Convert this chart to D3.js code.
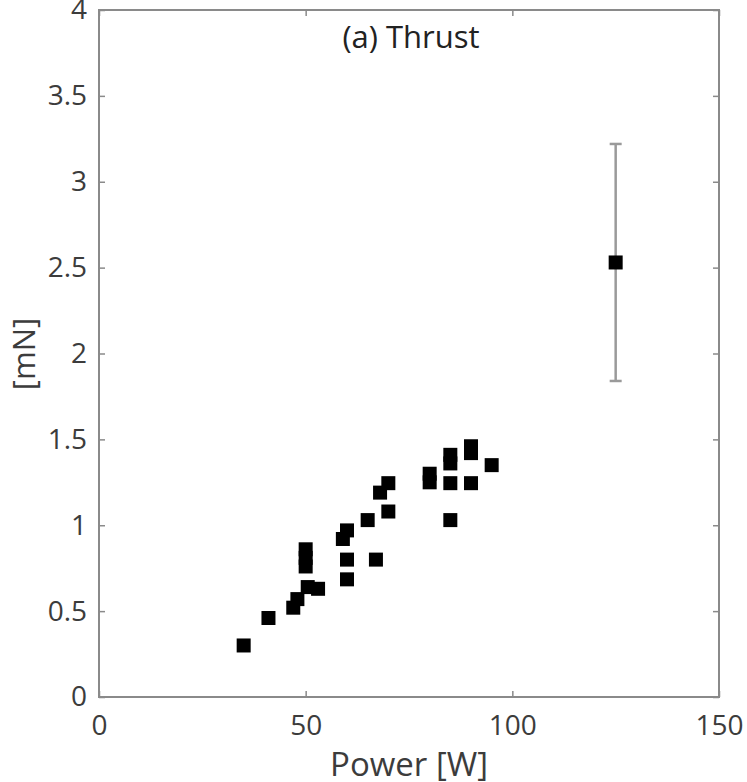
<!DOCTYPE html>
<html><head><meta charset="utf-8">
<script src="https://cdn.jsdelivr.net/npm/d3@7"></script>
<style>html,body{margin:0;padding:0;background:#fff;overflow:hidden;}</style>
</head><body>
<svg id="chart" width="747" height="782"></svg>
<script>
const powerW = [35, 41, 47, 48, 50.5, 53, 50, 50, 50, 59, 60, 60, 60, 65, 67, 68, 70, 70, 80, 80, 85, 85, 85, 85, 90, 90, 90, 95];
const thrustMN = [0.30, 0.46, 0.52, 0.57, 0.64, 0.63, 0.86, 0.81, 0.76, 0.92, 0.97, 0.80, 0.685, 1.03, 0.80, 1.19, 1.245, 1.08, 1.30, 1.25, 1.41, 1.36, 1.245, 1.03, 1.46, 1.42, 1.245, 1.35];
const errPoint = [{x: 125, y: 2.53, err: 0.69}];
const xTicks = [0, 50, 100, 150];
const yTicks = [0, 0.5, 1, 1.5, 2, 2.5, 3, 3.5, 4];
const titleText = "(a) Thrust";
const xLabel = "Power [W]";
const yLabel = "[mN]";

const svg = d3.select("#chart");
const L = 99, R = 719, T = 10, B = 697;
const x = d3.scaleLinear().domain([0, 150]).range([L, R]);
const y = d3.scaleLinear().domain([0, 4]).range([B, T]);
const font = "'Open Sans', sans-serif";
const axisCol = "#8a8a8a", textCol = "#3c3c3c";

svg.append("rect").attr("x", L).attr("y", T).attr("width", R - L).attr("height", B - T)
  .attr("fill", "none").attr("stroke", axisCol).attr("stroke-width", 2);

function styleAxis(g) {
  g.select(".domain").remove();
  g.selectAll(".tick line").attr("stroke", axisCol).attr("stroke-width", 1.5);
  g.selectAll(".tick text").attr("fill", textCol).attr("font-family", font).attr("font-size", 28);
}
const fmt = d => d3.format("")(d);
svg.append("g").attr("transform", `translate(0,${B})`)
  .call(d3.axisBottom(x).tickValues(xTicks).tickSize(-6).tickPadding(18).tickFormat(fmt)).call(styleAxis);
svg.append("g").attr("transform", `translate(0,${T})`)
  .call(d3.axisTop(x).tickValues(xTicks).tickSize(-6).tickFormat("")).call(styleAxis);
svg.append("g").attr("transform", `translate(${L},0)`)
  .call(d3.axisLeft(y).tickValues(yTicks).tickSize(-6).tickPadding(12).tickFormat(fmt)).call(styleAxis);
svg.append("g").attr("transform", `translate(${R},0)`)
  .call(d3.axisRight(y).tickValues(yTicks).tickSize(-6).tickFormat("")).call(styleAxis);

const eb = svg.append("g");
errPoint.forEach(d => {
  eb.append("line").attr("x1", x(d.x)).attr("x2", x(d.x)).attr("y1", y(d.y - d.err)).attr("y2", y(d.y + d.err))
    .attr("stroke", "#9a9a9a").attr("stroke-width", 2.5);
  [d.y - d.err, d.y + d.err].forEach(v => {
    eb.append("line").attr("x1", x(d.x) - 6).attr("x2", x(d.x) + 6).attr("y1", y(v)).attr("y2", y(v))
      .attr("stroke", "#9a9a9a").attr("stroke-width", 2.5);
  });
});

const ms = 14;
svg.append("g").selectAll("rect.pt").data(powerW.map((p, i) => ({x: p, y: thrustMN[i]})).concat(errPoint))
  .join("rect").attr("class", "pt")
  .attr("x", d => x(d.x) - ms / 2).attr("y", d => y(d.y) - ms / 2)
  .attr("width", ms).attr("height", ms).attr("fill", "#000");

svg.append("text").attr("x", 411).attr("y", 48).attr("text-anchor", "middle")
  .attr("font-family", font).attr("font-size", 31).attr("fill", "#222").text(titleText);
svg.append("text").attr("x", 409).attr("y", 776).attr("text-anchor", "middle")
  .attr("font-family", font).attr("font-size", 33).attr("fill", textCol).text(xLabel);
svg.append("text").attr("transform", `translate(35,354) rotate(-90)`).attr("text-anchor", "middle")
  .attr("font-family", font).attr("font-size", 31).attr("fill", textCol).text(yLabel);
</script>
</body></html>
